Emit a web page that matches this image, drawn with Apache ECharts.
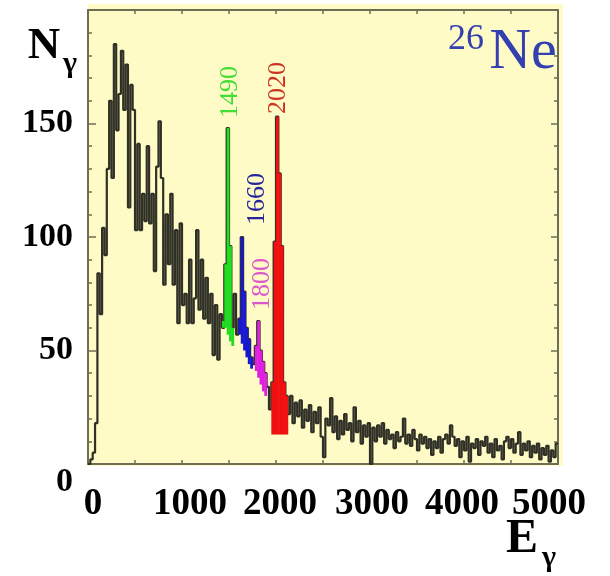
<!DOCTYPE html>
<html><head><meta charset="utf-8">
<script src="https://cdn.jsdelivr.net/npm/echarts@6/dist/echarts.min.js"></script>
<style>html,body{margin:0;padding:0;background:#fff}#c{width:610px;height:576px}</style>
</head><body><div id="c"></div>
<script>
// ---- data ----
const BIN_WIDTH = 25; // keV per histogram bin
const counts = [
  0, 2, 5, 18, 84, 66, 104, 92, 130, 160,
  126, 185, 147, 163, 182, 156, 176, 113, 167, 156,
  103, 141, 103, 119, 107, 140, 106, 119, 85, 131,
  151, 126, 79, 110, 88, 119, 79, 103, 62, 106,
  70, 75, 62, 90, 62, 73, 103, 68, 90, 64,
  82, 62, 75, 48, 70, 46, 66, 60, 88, 148,
  96, 60, 75, 57, 64, 100, 76, 60, 55, 47,
  44, 52, 63, 50, 45, 40, 34, 24, 36, 98,
  153, 128, 96, 36, 30, 22, 30, 18, 27, 21,
  28, 16, 24, 19, 26, 14, 23, 18, 25, 12,
  3, 20, 17, 29, 14, 21, 11, 19, 13, 22,
  15, 18, 10, 25, 14, 19, 9, 17, 12, 18,
  0, 16, 10, 17, 12, 18, 9, 15, 11, 13,
  7, 14, 10, 12, 20, 9, 13, 8, 15, 11,
  6, 13, 9, 12, 7, 11, 4, 10, 7, 12,
  5, 11, 13, 9, 17, 12, 8, 11, 3, 10,
  6, 12, 1, 9, 7, 11, 4, 10, 8, 12,
  5, 9, 3, 11, 6, 8, 2, 10, 12, 7,
  11, 5, 9, 14, 4, 9, 6, 10, 3, 8,
  5, 9, 2, 7, 4, 8, 1, 6, 3, 9
];
const xTicks = [0, 1000, 2000, 3000, 4000, 5000];
const yTicks = [0, 50, 100, 150];
const peakNames = ['1490', '1660', '1800', '2020'];
const peakFirstBin = [57, 64, 71, 78];
const peakLow = [
  [63, 60, 57, 54, 52],
  [57, 53, 50, 47, 44, 42],
  [41, 38, 35, 32, 30],
  [13, 13, 13, 13, 13, 13, 13]
];

// ---- styles ----
const AX = '#6e6e55';
const SERIF = 'Liberation Serif';
const peakFill = ['#22dd22', '#1818d0', '#e020e0', '#f01010'];
const peakText = ['#44dd33', '#26269a', '#dd55cc', '#cc3322'];
const peakLabelPos = [[230, 92], [257, 199], [262, 284], [278, 88]];
const xLabelPad = {0: [0, 0, 0, 10], 1000: [0, 0, 0, 16], 2000: [0, 0, 0, 8], 3000: [0, 0, 0, 4], 4000: [0, 4, 0, 0], 5000: [0, 18, 0, 0]};

const lineData = counts.map((v, i) => [i * BIN_WIDTH, v]);
lineData.push([counts.length * BIN_WIDTH, counts[counts.length - 1]]);

const fillData = [];
peakFirstBin.forEach((b0, p) => {
  peakLow[p].forEach((lo, j) => {
    const b = b0 + j;
    fillData.push([b * BIN_WIDTH, (b + 1) * BIN_WIDTH, lo, counts[b], p]);
  });
});

const xRich = {};
xTicks.forEach(t => {
  xRich['k' + t] = {fontFamily: SERIF, fontWeight: 'bold', fontSize: 37, color: '#000', padding: xLabelPad[t]};
});

const chart = echarts.init(document.getElementById('c'), null, {renderer: 'canvas'});

function axisCommon(pos) {
  return {
    axisLine: {show: true, onZero: false, lineStyle: {color: AX, width: 2}},
    splitLine: {show: false},
    position: pos
  };
}
function txt(t, x, y, size, weight, color, extra) {
  return Object.assign({
    type: 'text', x: x, y: y, z: 20,
    style: {text: t, fontFamily: SERIF, fontSize: size, fontWeight: weight, fill: color, align: 'center', verticalAlign: 'middle'}
  }, extra || {});
}

const option = {
  backgroundColor: '#ffffff',
  animation: false,
  grid: {left: 88, right: 52, top: 10, bottom: 112, show: true, backgroundColor: '#fefbc6', borderWidth: 0},
  xAxis: [
    Object.assign(axisCommon('bottom'), {
      type: 'value', min: 0, max: 5000, interval: 1000,
      axisTick: {show: true, inside: true, length: 4, lineStyle: {color: AX, width: 1.5}},
      minorTick: {show: true, splitNumber: 2, length: 4, lineStyle: {color: AX, width: 1.5}},
      axisLabel: {margin: 22, fontFamily: SERIF, fontWeight: 'bold', fontSize: 37, color: '#000',
        formatter: v => (xTicks.indexOf(v) < 0 ? '' : '{k' + v + '|' + v + '}'), rich: xRich}
    }),
    Object.assign(axisCommon('top'), {
      type: 'value', min: 0, max: 5000, interval: 1000,
      axisTick: {show: true, inside: true, length: 4, lineStyle: {color: AX, width: 1.5}},
      minorTick: {show: true, splitNumber: 2, length: 4, lineStyle: {color: AX, width: 1.5}},
      axisLabel: {show: false}
    })
  ],
  yAxis: [
    Object.assign(axisCommon('left'), {
      type: 'value', min: 0, max: 200, interval: 50,
      axisTick: {show: true, inside: true, length: 8, lineStyle: {color: AX, width: 1.5}},
      minorTick: {show: true, splitNumber: 5, length: 4, lineStyle: {color: AX, width: 1.5}},
      axisLabel: {
        margin: 15, fontFamily: SERIF, fontWeight: 'bold', fontSize: 34, color: '#000',
        formatter: v => (yTicks.indexOf(v) < 0 ? '' : (v === 0 ? '{z|0}' : '{n|' + v + '}')),
        rich: {
          n: {fontFamily: SERIF, fontWeight: 'bold', fontSize: 34, color: '#000'},
          z: {fontFamily: SERIF, fontWeight: 'bold', fontSize: 34, color: '#000', padding: [37, 0, 0, 0]}
        }
      }
    }),
    Object.assign(axisCommon('right'), {
      type: 'value', min: 0, max: 200, interval: 50,
      axisTick: {show: true, inside: true, length: 7, lineStyle: {color: AX, width: 1.5}},
      minorTick: {show: true, splitNumber: 5, length: 4, lineStyle: {color: AX, width: 1.5}},
      axisLabel: {show: false}
    })
  ],
  series: [
    {
      type: 'line',
      xAxisIndex: 0, yAxisIndex: 0,
      data: lineData,
      step: 'end',
      symbol: 'none',
      z: 3,
      lineStyle: {color: '#303026', width: 2.2}
    },
    {
      type: 'custom',
      xAxisIndex: 0, yAxisIndex: 0,
      data: fillData,
      encode: {x: [0, 1], y: [2, 3]},
      z: 4,
      renderItem: function (params, api) {
        const p0 = api.coord([api.value(0), api.value(3)]);
        const p1 = api.coord([api.value(1), api.value(2)]);
        return {
          type: 'rect',
          shape: {x: p0[0], y: p0[1], width: p1[0] - p0[0] + 0.5, height: p1[1] - p0[1]},
          style: {fill: peakFill[api.value(4)]}
        };
      }
    }
  ],
  graphic: [
    {type: 'rect', z: -10, shape: {x: 88, y: 4, width: 475, height: 462}, style: {fill: '#fefbc6'}},
    txt('N', 44, 46, 45, 'bold', '#000'),
    txt('γ', 70, 64, 30, 'bold', '#000'),
    txt('E', 522, 540, 48, 'bold', '#000'),
    txt('γ', 549, 558, 30, 'bold', '#000'),
    txt('26', 466, 40, 36, 'normal', '#3440b0'),
    txt('Ne', 523, 53, 58, 'normal', '#3440b0')
  ].concat(peakNames.map((t, i) => txt(t, peakLabelPos[i][0], peakLabelPos[i][1], 26, 'normal', peakText[i], {rotation: Math.PI / 2})))
};
chart.setOption(option);
</script>
</body></html>
